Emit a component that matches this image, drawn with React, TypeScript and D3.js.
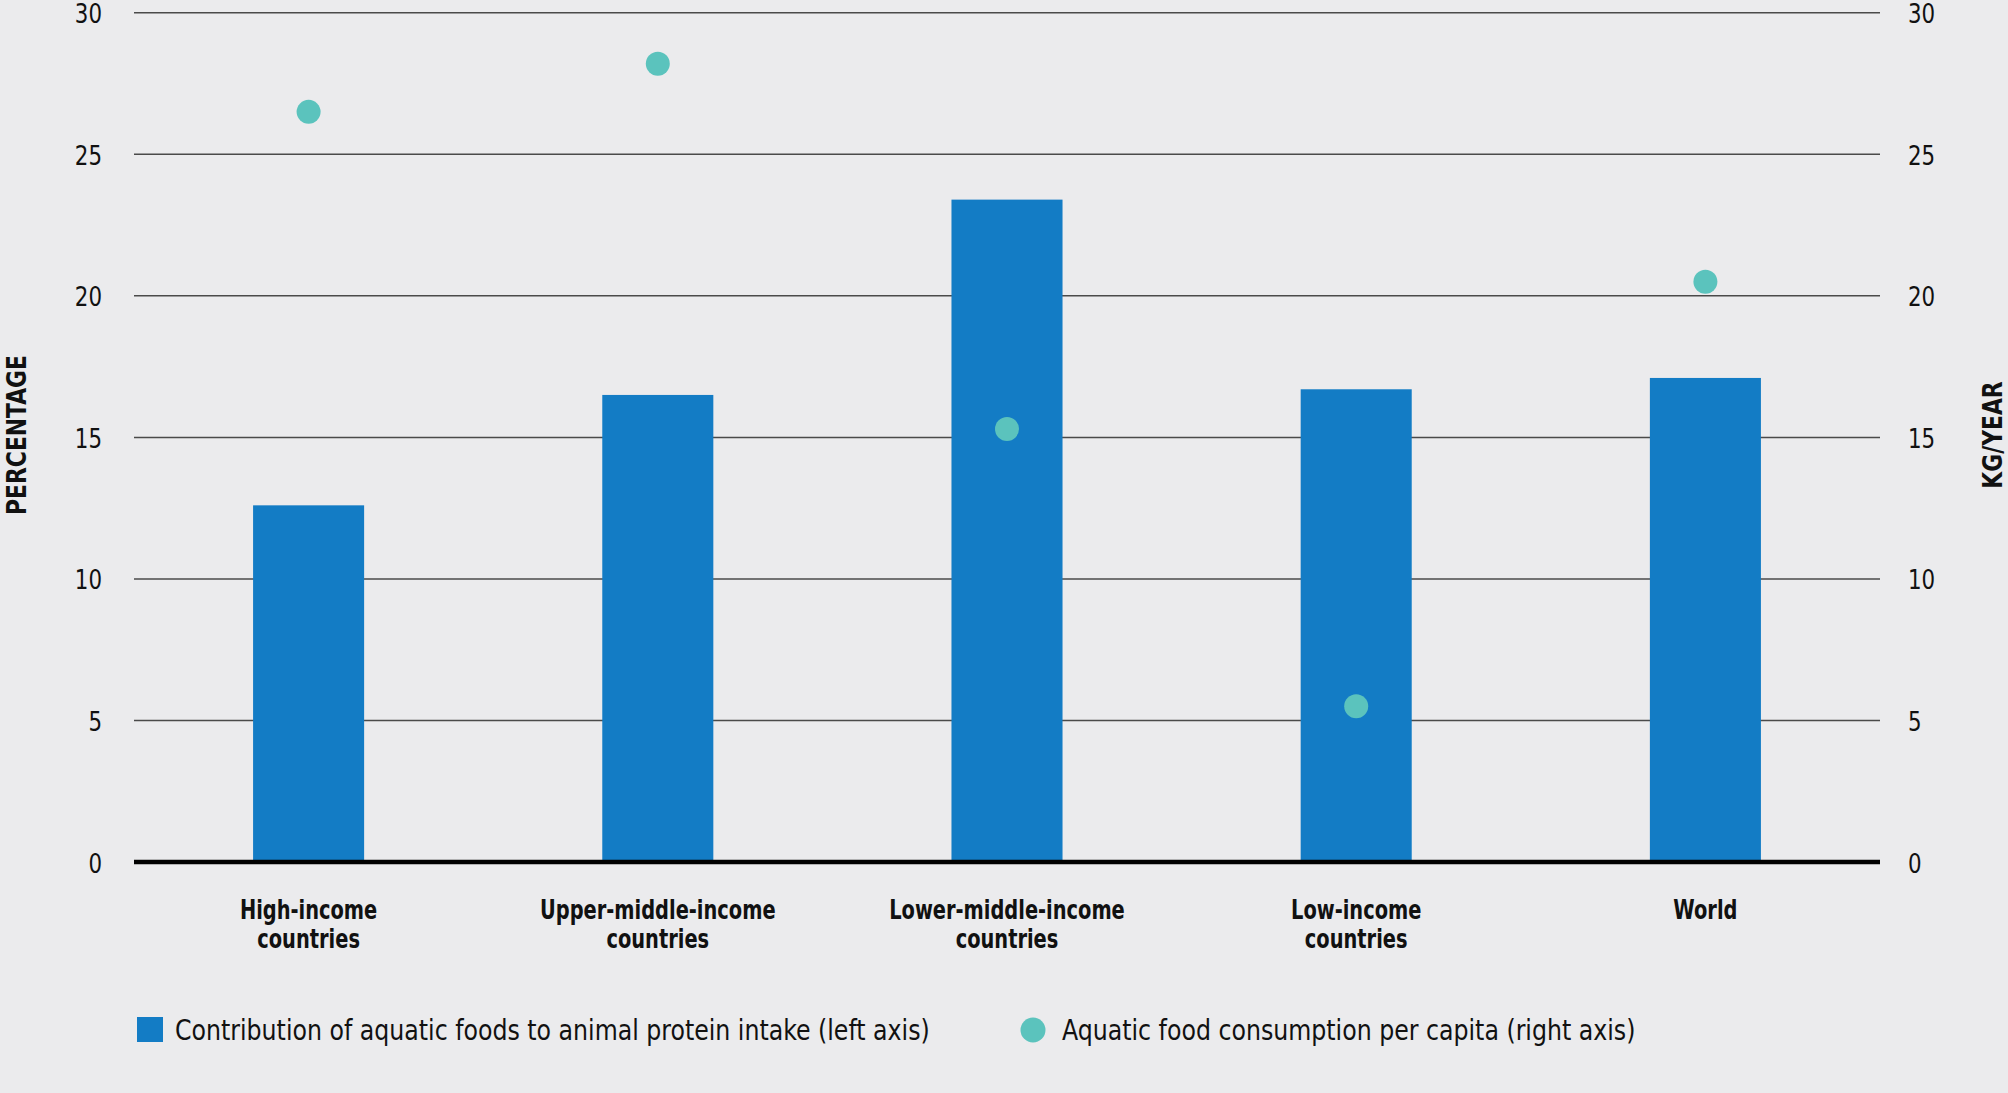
import React from "react";
import * as d3 from "d3";

const width = 2008;
const height = 1093;
const margin = { left: 134, right: 128, top: 12.8, bottom: 231 }; // plot area edges
const bg = "#EBEBED";
const barColor = "#137CC5";
const dotColor = "#5BC3BD";
const font = "'DejaVu Sans Condensed', 'DejaVu Sans', sans-serif";

const categories = [
  ["High-income", "countries"],
  ["Upper-middle-income", "countries"],
  ["Lower-middle-income", "countries"],
  ["Low-income", "countries"],
  ["World"],
];
const proteinShare = [12.6, 16.5, 23.4, 16.7, 17.1]; // left axis, %
const consumption = [26.5, 28.2, 15.3, 5.5, 20.5]; // right axis, kg/year
const ticks = [0, 5, 10, 15, 20, 25, 30];
const legendItems = [
  "Contribution of aquatic foods to animal protein intake (left axis)",
  "Aquatic food consumption per capita (right axis)",
];

// text squeezed horizontally to mimic the condensed face of the original
const Txt = ({ x, y, sx = 0.9, rotate = 0, children, ...rest }) => (
  <text
    transform={`translate(${x},${y}) rotate(${rotate}) scale(${sx},1)`}
    dominantBaseline="central"
    fill="#111"
    {...rest}
  >
    {children}
  </text>
);

const App = () => {
  const keys = categories.map((c) => c.join(" "));
  const x = d3
    .scaleBand()
    .domain(keys)
    .range([margin.left, width - margin.right])
    .paddingInner(0.682)
    .paddingOuter(0.341);
  const yLeft = d3
    .scaleLinear()
    .domain([0, 30])
    .range([height - margin.bottom, margin.top]);
  const yRight = d3
    .scaleLinear()
    .domain([0, 30])
    .range([height - margin.bottom, margin.top]);

  const x0 = margin.left;
  const x1 = width - margin.right;
  const cx = (k) => x(k) + x.bandwidth() / 2;

  return (
    <svg
      width={width}
      height={height}
      style={{ position: "absolute", left: 0, top: 0, background: bg }}
      fontFamily={font}
    >
      <rect width={width} height={height} fill={bg} />
      {/* gridlines */}
      {ticks.map((t) => (
        <line
          key={"g" + t}
          x1={x0}
          x2={x1}
          y1={yLeft(t)}
          y2={yLeft(t)}
          stroke="#4a4a4a"
          strokeWidth={1.5}
        />
      ))}
      {/* bars */}
      {keys.map((k, i) => (
        <rect
          key={"b" + k}
          x={x(k)}
          y={yLeft(proteinShare[i])}
          width={x.bandwidth()}
          height={yLeft(0) - yLeft(proteinShare[i])}
          fill={barColor}
        />
      ))}
      {/* zero line */}
      <line x1={x0} x2={x1} y1={yLeft(0)} y2={yLeft(0)} stroke="#000" strokeWidth={4.5} />
      {/* dots */}
      {keys.map((k, i) => (
        <circle key={"d" + k} cx={cx(k)} cy={yRight(consumption[i])} r={12} fill={dotColor} />
      ))}
      {/* left ticks */}
      {ticks.map((t) => (
        <Txt key={"l" + t} x={102} y={yLeft(t) + 1} sx={0.88} textAnchor="end" fontSize={27}>
          {t}
        </Txt>
      ))}
      {/* right ticks */}
      {ticks.map((t) => (
        <Txt key={"r" + t} x={1908} y={yRight(t) + 1} sx={0.88} textAnchor="start" fontSize={27}>
          {t}
        </Txt>
      ))}
      {/* axis titles */}
      <Txt x={17} y={435} rotate={-90} sx={0.9} textAnchor="middle" fontSize={27} fontWeight="bold">
        PERCENTAGE
      </Txt>
      <Txt x={1993} y={435} rotate={-90} sx={0.9} textAnchor="middle" fontSize={27} fontWeight="bold">
        KG/YEAR
      </Txt>
      {/* category labels */}
      {categories.map((lines, i) =>
        lines.map((s, j) => (
          <Txt
            key={"c" + i + "-" + j}
            x={cx(keys[i])}
            y={910 + j * 29.5}
            sx={0.83}
            textAnchor="middle"
            fontSize={26}
            fontWeight="bold"
          >
            {s}
          </Txt>
        ))
      )}
      {/* legend */}
      <rect x={137} y={1017} width={26} height={25} fill={barColor} />
      <Txt x={175} y={1030} sx={0.94} fontSize={28}>
        {legendItems[0]}
      </Txt>
      <circle cx={1033} cy={1030} r={12.5} fill={dotColor} />
      <Txt x={1062} y={1030} sx={0.94} fontSize={28}>
        {legendItems[1]}
      </Txt>
    </svg>
  );
};

export default App;
